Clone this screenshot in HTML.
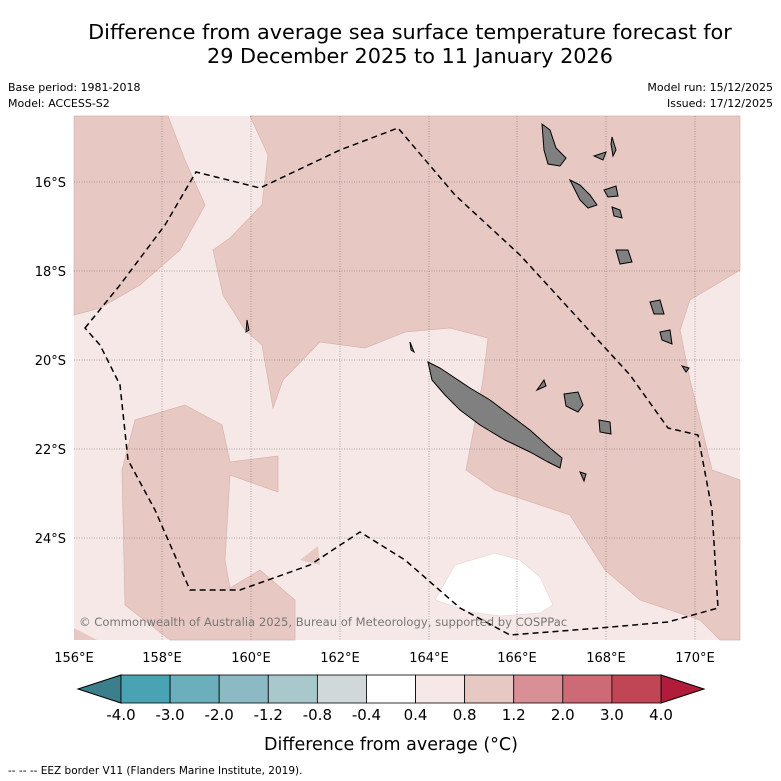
<!DOCTYPE html>
<html><head><meta charset="utf-8"><style>
body{margin:0;background:#fff;width:781px;height:781px;overflow:hidden;font-family:"DejaVu Sans","Liberation Sans",sans-serif}
svg{position:absolute;left:0;top:0}
</style></head><body>
<svg width="781" height="781">
<text x="410" y="39" text-anchor="middle" font-size="20.8">Difference from average sea surface temperature forecast for</text>
<text x="410" y="63" text-anchor="middle" font-size="20.8">29 December 2025 to 11 January 2026</text>
<text x="8" y="91" font-size="11">Base period: 1981-2018</text>
<text x="8" y="107" font-size="11">Model: ACCESS-S2</text>
<text x="773" y="91" font-size="11" text-anchor="end">Model run: 15/12/2025</text>
<text x="773" y="107" font-size="11" text-anchor="end">Issued: 17/12/2025</text>
<g>
<rect x="74" y="116" width="666" height="524" fill="#f5e8e6"/>
<path d="M250,116 L268,155 L262,205 L230,238 L213,250 L223,295 L245,330 L262,345 L273,408 L283,380 L320,342 L365,348 L405,332 L450,328 L488,338 L483,380 L466,470 L495,490 L570,515 L605,570 L640,600 L700,620 L720,640 L740,640 L740,480 L712,470 L700,420 L690,380 L680,330 L690,300 L740,270 L740,116 Z" fill="#e8c8c3" stroke="#d9b3ad" stroke-width="0.7"/>
<path d="M74,116 L168,116 L185,160 L205,205 L180,250 L140,285 L100,308 L74,315 Z" fill="#e8c8c3" stroke="#d9b3ad" stroke-width="0.7"/>
<path d="M135,420 L185,405 L222,425 L230,462 L278,456 L278,492 L230,475 L225,560 L230,588 L260,570 L295,600 L295,640 L170,640 L125,605 L122,470 Z" fill="#e8c8c3" stroke="#d9b3ad" stroke-width="0.7"/>
<path d="M74,628 L97,640 L74,640 Z" fill="#e8c8c3"/>
<path d="M300,560 L318,546 L320,565 Z" fill="#e8c8c3"/>
<path d="M435,600 L455,565 L495,553 L520,560 L540,577 L553,605 L540,613 L500,616 L470,612 Z" fill="#ffffff" stroke="#e8d8d6" stroke-width="0.7"/>
<g stroke="#666" stroke-width="0.5" stroke-dasharray="1,1.5">
<line x1="162" y1="116" x2="162" y2="640"/><line x1="251" y1="116" x2="251" y2="640"/><line x1="340" y1="116" x2="340" y2="640"/><line x1="429" y1="116" x2="429" y2="640"/><line x1="517" y1="116" x2="517" y2="640"/><line x1="606" y1="116" x2="606" y2="640"/><line x1="695" y1="116" x2="695" y2="640"/>
<line x1="74" y1="182" x2="740" y2="182"/><line x1="74" y1="271" x2="740" y2="271"/><line x1="74" y1="360" x2="740" y2="360"/><line x1="74" y1="449" x2="740" y2="449"/><line x1="74" y1="538" x2="740" y2="538"/>
</g>
<g fill="#808080" stroke="#000" stroke-width="1">
<path d="M428,362 L440,368 L455,378 L470,388 L490,400 L510,415 L530,430 L550,448 L562,458 L560,468 L548,462 L530,452 L505,440 L480,425 L460,410 L445,395 L432,380 Z"/>
<path d="M542,124 L550,130 L556,148 L566,158 L560,166 L548,164 L544,150 Z"/>
<path d="M594,156 L606,152 L603,160 Z"/>
<path d="M612,137 L616,150 L613,156 L611,144 Z"/>
<path d="M570,180 L580,185 L590,195 L597,205 L588,208 L580,200 L575,190 Z"/>
<path d="M604,190 L616,186 L618,196 L608,197 Z"/>
<path d="M612,207 L620,210 L622,218 L614,216 Z"/>
<path d="M616,250 L628,250 L632,262 L620,264 Z"/>
<path d="M650,302 L660,300 L664,314 L654,314 Z"/>
<path d="M660,332 L670,330 L672,344 L662,340 Z"/>
<path d="M682,366 L689,368 L686,372 Z"/>
<path d="M564,394 L578,392 L583,405 L578,412 L566,406 Z"/>
<path d="M599,420 L610,422 L611,434 L600,432 Z"/>
<path d="M537,390 L544,380 L546,386 Z"/>
<path d="M580,472 L586,474 L584,481 Z"/>
<path d="M247,320 L249,330 L246,332 Z"/>
<path d="M410,342 L414,352 L411,350 Z"/>
</g>
<path d="M85,328 L120,285 L165,225 L196,172 L260,188 L340,150 L398,128 L455,195 L520,255 L575,315 L630,375 L668,428 L698,435 L712,510 L718,608 L668,622 L600,628 L510,635 L460,608 L405,560 L360,532 L310,565 L240,590 L190,590 L155,510 L128,460 L120,385 L100,345 Z" fill="none" stroke="#000" stroke-width="1.5" stroke-dasharray="6,4"/>
<text x="79" y="626" font-size="11.6" fill="#777">© Commonwealth of Australia 2025, Bureau of Meteorology, supported by COSPPac</text>
</g>
<g font-size="13">
<text x="66" y="187" text-anchor="end">16°S</text><text x="66" y="276" text-anchor="end">18°S</text><text x="66" y="365" text-anchor="end">20°S</text><text x="66" y="454" text-anchor="end">22°S</text><text x="66" y="543" text-anchor="end">24°S</text>
<text x="74" y="662" text-anchor="middle">156°E</text><text x="162" y="662" text-anchor="middle">158°E</text><text x="251" y="662" text-anchor="middle">160°E</text><text x="340" y="662" text-anchor="middle">162°E</text><text x="429" y="662" text-anchor="middle">164°E</text><text x="517" y="662" text-anchor="middle">166°E</text><text x="606" y="662" text-anchor="middle">168°E</text><text x="695" y="662" text-anchor="middle">170°E</text>
</g>
<g id="cbar"></g>
<text x="391" y="750" text-anchor="middle" font-size="17.5">Difference from average (°C)</text>
<text x="8" y="774" font-size="10.5">--  --  -- EEZ border V11 (Flanders Marine Institute, 2019).</text>
</svg>
<script>
const levels=["-4.0","-3.0","-2.0","-1.2","-0.8","-0.4","0.4","0.8","1.2","2.0","3.0","4.0"];
const colors=["#4aa3b3","#6aafbb","#8bbac5","#a9c8cc","#d0d8da","#ffffff","#f5e8e6","#e8c8c3","#d88f96","#cc6b76","#c04555"];
const extColors=["#3a7f8b","#b01c3a"];
const ns="http://www.w3.org/2000/svg";
const g=document.getElementById('cbar');
const x0=121,x1=661,y0=675,y1=703;
const w=(x1-x0)/colors.length;
function sx(i){return x0+i*w;}
function mk(t,a){const e=document.createElementNS(ns,t);for(const k in a)e.setAttribute(k,a[k]);g.appendChild(e);return e;}
let l=mk('polygon',{points:`${x0},${y0} ${x0},${y1} 78,${(y0+y1)/2}`,fill:extColors[0],stroke:'#000','stroke-width':1});


let r=mk('polygon',{points:`${x1},${y0} ${x1},${y1} 704,${(y0+y1)/2}`,fill:extColors[1],stroke:'#000','stroke-width':1});


colors.forEach((c,i)=>{
 const e=mk('rect',{x:sx(i),y:y0,width:w,height:y1-y0,fill:c,stroke:'#000','stroke-width':0.8});
 
 
});
levels.forEach((t,i)=>{
 const e=mk('text',{x:sx(i),y:720,'text-anchor':'middle','font-size':15});
 e.textContent=t;
 
 
});
</script>
</body></html>
